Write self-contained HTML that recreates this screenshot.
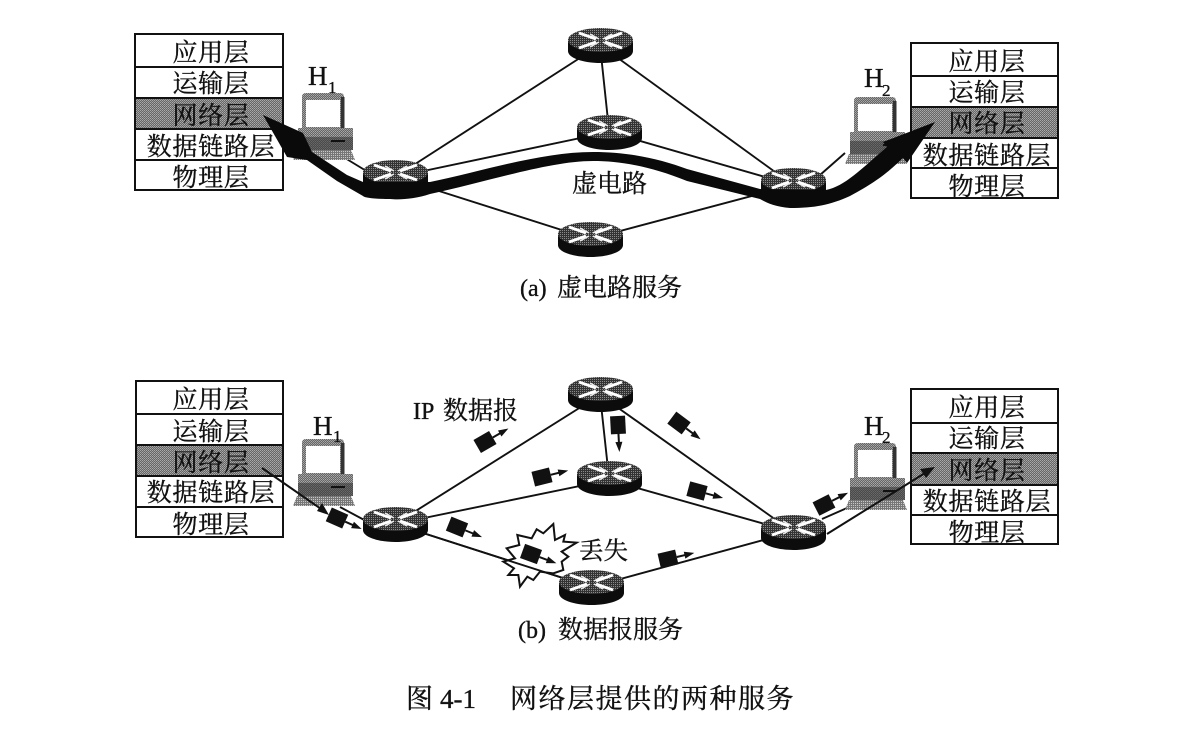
<!DOCTYPE html>
<html><head><meta charset="utf-8"><style>
html,body{margin:0;padding:0;background:#fff}
svg{display:block}
.s{font-family:"Liberation Serif","Noto Serif CJK SC",serif;fill:#111;stroke:#111;stroke-width:.35px}
.c{font-size:25px;text-anchor:middle;letter-spacing:.7px}
</style></head><body>
<svg width="1191" height="734" viewBox="0 0 1191 734" xmlns="http://www.w3.org/2000/svg">
<defs>
<pattern id="g" width="2" height="2" patternUnits="userSpaceOnUse"><rect width="2" height="2" fill="#666"/><rect width="1" height="1" fill="#aaa"/><rect x="1" y="1" width="1" height="1" fill="#999"/></pattern>
<pattern id="d" width="2" height="2" patternUnits="userSpaceOnUse"><rect width="2" height="2" fill="#333"/><rect width="1" height="1" fill="#8a8a8a"/></pattern>
<pattern id="h" width="2" height="2" patternUnits="userSpaceOnUse"><rect width="2" height="2" fill="#777"/><rect width="1" height="1" fill="#c8c8c8"/></pattern>
<g id="r">
<path d="M0 12V23C0 30 15 35 32.500 35S65 30 65 23V12Z" fill="#0c0c0c"/>
<ellipse cx="32.500" cy="12" rx="32.500" ry="12" fill="url(#d)"/>
<path d="M11 5L28 11M54 5L37 11M11 20L28 14M54 20L37 14" stroke="#fff" stroke-width="2.800" fill="none"/>
<path d="M22 6L31 11M44 6L35 11M22 19L31 14M44 19L35 14" stroke="#eee" stroke-width="1.500" fill="none"/>
</g>
<g id="c">
<polygon points="4,57 58,57 62,67 0,67" fill="url(#h)"/>
<rect x="5" y="35" width="55" height="22" fill="url(#g)"/>
<rect x="5" y="44" width="55" height="13" fill="#333" opacity=".55"/>
<rect x="38" y="47" width="14" height="2" fill="#111"/>
<path d="M9 35V4Q9 0 13 0H47Q51 0 51 4V35Z" fill="url(#g)"/>
<rect x="13" y="7" width="34" height="27" fill="#fff"/>
<rect x="48" y="4" width="3.500" height="31" fill="#333"/>
</g>
<g id="p">
<rect x="-9" y="-7.500" width="18" height="15" fill="#111"/>
<path d="M9 0H18" stroke="#111" stroke-width="2"/>
<polygon points="17,-3.500 27,0 17,3.500" fill="#111"/>
</g>
</defs>

<g fill="#fff" stroke="#111" stroke-width="2">
<rect x="135" y="34" width="148" height="156"/><path d="M135 67H283M135 160H283"/>
<rect x="135" y="98" width="148" height="31" fill="url(#g)"/>
<rect x="911" y="43" width="147" height="155"/><path d="M911 76H1058M911 168H1058"/>
<rect x="911" y="107" width="147" height="31" fill="url(#g)"/>
<rect x="136" y="381" width="147" height="156"/><path d="M136 414H283M136 507H283"/>
<rect x="136" y="445" width="147" height="31" fill="url(#g)"/>
<rect x="911" y="389" width="147" height="155"/><path d="M911 423H1058M911 515H1058"/>
<rect x="911" y="453" width="147" height="32" fill="url(#g)"/>
</g>
<g class="s c">
<text x="211" y="61">应用层</text><text x="211" y="92">运输层</text><text x="211" y="124">网络层</text><text x="211" y="155">数据链路层</text><text x="211" y="186">物理层</text>
<text x="987" y="70">应用层</text><text x="987" y="101">运输层</text><text x="987" y="132">网络层</text><text x="987" y="164">数据链路层</text><text x="987" y="195">物理层</text>
<text x="211" y="408">应用层</text><text x="211" y="440">运输层</text><text x="211" y="471">网络层</text><text x="211" y="501">数据链路层</text><text x="211" y="533">物理层</text>
<text x="987" y="416">应用层</text><text x="987" y="447">运输层</text><text x="987" y="479">网络层</text><text x="987" y="510">数据链路层</text><text x="987" y="541">物理层</text>
</g>

<g stroke="#111" stroke-width="1.900" fill="none">
<path d="M600 45L395 177M600 45L793 185M600 45L609 130M609 132L395 177M609 132L793 185M590 239L395 177M590 239L793 185M345 158L368 172M845 153L820 175"/>
</g>
<use href="#c" x="293" y="93"/><use href="#c" x="845" y="97"/>
<use href="#r" x="568" y="28"/><use href="#r" x="577" y="115"/><use href="#r" x="363" y="160"/><use href="#r" x="761" y="168"/><use href="#r" x="558" y="222"/>
<path d="M263 115L303 133L312 152L347 175L363 182L430 182C480 172 540 152 593 152C630 152 660 159 687 169L760 189L826 190C845 186 860 170 887 147L883 142L935 122L907 163L903 158C890 170 880 180 850 196C830 205 815 208 790 208C775 207 765 202 760 199L687 181C650 166 620 161 593 161C550 161 490 181 430 194C415 199 400 200 390 199C375 199 365 198 363 196L337 181L307 160L287 157Z" fill="#0a0a0a"/>
<g class="s">
<text x="308" y="85" font-size="27">H</text><text x="328" y="93" font-size="17">1</text>
<text x="864" y="87" font-size="27">H</text><text x="882" y="96" font-size="17">2</text>
<text x="572" y="192" font-size="25">虚电路</text>
<text x="520" y="296" font-size="24">(a)</text><text x="557" y="296" font-size="25">虚电路服务</text>
</g>

<g stroke="#111" stroke-width="1.900" fill="none">
<path d="M600 395L395 524M600 395L793 532M600 395L609 478M609 480L395 524M609 480L793 532M591 587L395 524M591 587L793 532M340 507L368 522M822 519L847 508"/>
</g>
<use href="#c" x="293" y="439"/><use href="#c" x="845" y="443"/>
<polygon transform="translate(440,370) scale(.3333)" points="200,535 238,525 232,495 275,505 290,478 310,490 340,462 345,510 375,495 370,515 410,518 365,545 385,560 365,575 370,600 340,610 300,605 280,630 262,620 240,650 235,615 205,615 222,595 190,575 225,565" fill="#fff" stroke="#111" stroke-width="6"/>
<path d="M395 524L591 587" stroke="#111" stroke-width="1.900"/>
<use href="#r" x="568" y="377"/><use href="#r" x="577" y="461"/><use href="#r" x="363" y="507"/><use href="#r" x="761" y="515"/><use href="#r" x="559" y="570"/>
<path d="M262 468L324 511" stroke="#111" stroke-width="2"/><polygon points="329,515 317,511 322,503" fill="#111"/>
<path d="M827 534L925 473" stroke="#111" stroke-width="2"/><polygon points="935,467 926,478 920,469" fill="#111"/>
<use href="#p" transform="translate(485,442) rotate(-30)"/>
<use href="#p" transform="translate(542,477) rotate(-14)"/>
<use href="#p" transform="translate(618,425) rotate(87)"/>
<use href="#p" transform="translate(679,423) rotate(37)"/>
<use href="#p" transform="translate(697,491) rotate(15)"/>
<use href="#p" transform="translate(457,527) rotate(22)"/>
<use href="#p" transform="translate(531,554) rotate(20)"/>
<use href="#p" transform="translate(668,559) rotate(-13)"/>
<use href="#p" transform="translate(337,518) rotate(24)"/>
<use href="#p" transform="translate(824,505) rotate(-27)"/>
<g class="s">
<text x="313" y="435" font-size="27">H</text><text x="333" y="442" font-size="17">1</text>
<text x="864" y="435" font-size="27">H</text><text x="882" y="443" font-size="17">2</text>
<text x="413" y="419" font-size="24">IP</text><text x="443" y="419" font-size="25">数据报</text>
<text x="579" y="559" font-size="24.500">丢失</text>
<text x="518" y="638" font-size="24">(b)</text><text x="558" y="638" font-size="25">数据报服务</text>
<text x="406" y="708" font-size="27">图</text><text x="440" y="708" font-size="27">4-1</text>
<text x="510" y="708" font-size="27" letter-spacing="1.500">网络层提供的两种服务</text>
</g>
</svg>
</body></html>
